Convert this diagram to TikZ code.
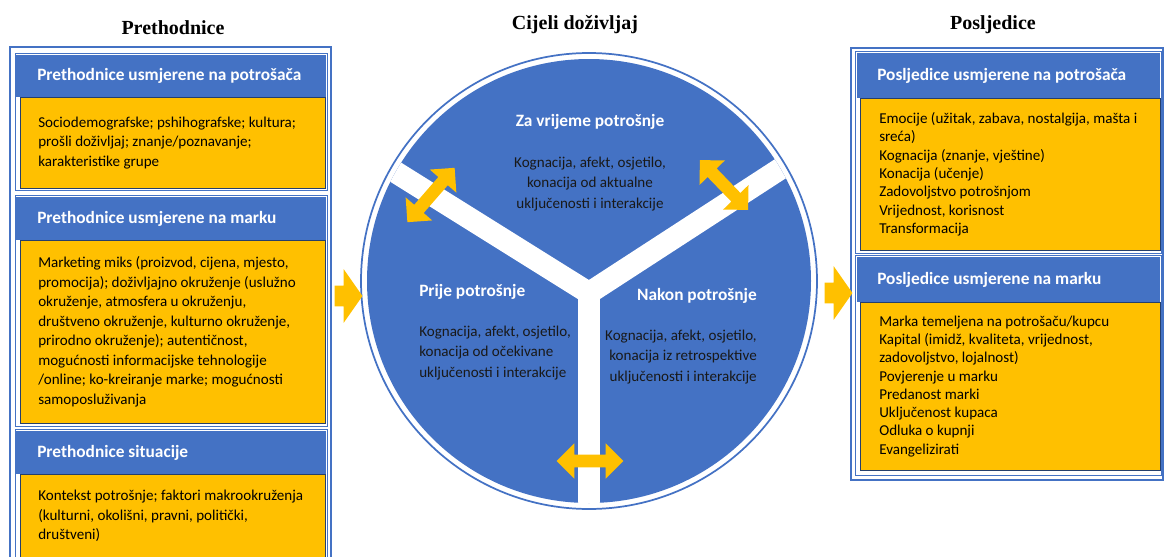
\documentclass[tikz,border=0pt]{standalone}
\usepackage{fontspec}
\setmainfont{Carlito}
\newfontfamily\titlefont{Liberation Serif}
\usetikzlibrary{shapes.arrows}
\definecolor{hblue}{HTML}{4472C4}
\definecolor{byellow}{HTML}{FFC000}
\begin{document}
\begin{tikzpicture}
[x=0.75pt,y=-0.75pt,
every node/.append style={execute at begin node={\spaceskip=0pt\xspaceskip=0pt\relax}},
title/.style={font=\titlefont\bfseries\fontsize{15}{18}\selectfont},
frame/.style={draw=hblue,line width=1.1pt},
card/.style={draw=hblue,line width=0.6pt},
hdr/.style={anchor=north west,fill=hblue,text=white,align=flush left,inner ysep=0pt,font=\bfseries\fontsize{13}{15}\selectfont},
lhdr/.style={hdr,inner xsep=16.5pt,text width=200.25pt},
rhdr/.style={hdr,inner xsep=15pt,text width=197.25pt,minimum height=33.75pt},
txtbox/.style={anchor=north west,fill=byellow,draw=hblue!55!black,line width=0.4pt,align=flush left,inner ysep=0pt},
ltxt/.style={txtbox,inner xsep=13.5pt,text width=201.75pt,font=\fontsize{11.3}{14.6}\selectfont},
rtxt/.style={txtbox,inner xsep=14.25pt,text width=196.5pt,font=\fontsize{11.3}{13.7}\selectfont},
phase/.style={text=white,font=\bfseries\fontsize{13}{15}\selectfont,inner sep=0pt},
phasetxt/.style={text=black!90,font=\fontsize{11.3}{15.3}\selectfont,inner sep=0pt},
swap/.style={double arrow,fill=byellow,inner sep=4.5pt,double arrow head extend=8.5pt,double arrow tip angle=90,minimum width=0pt},
flow/.style={single arrow,fill=byellow,inner sep=7.5pt,single arrow head extend=12.5pt,single arrow tip angle=110,minimum width=0pt,minimum height=19.5pt}]

\useasboundingbox (0,0) rectangle (1164,557);

\node[title] (pre) at (173,28) {Prethodnice};
\node[title] (whole) at (575,25) {Cijeli doživljaj};
\node[title] (post) at (993,25) {Posljedice};

% prethodnice
\draw[frame] (10,47) rectangle (331,600);
\draw[card] (15,53) rectangle (327,190);
\draw[card] (15,195) rectangle (327,426);
\draw[card] (15,429) rectangle (327,600);
\node[lhdr,minimum height=31.5pt] (cons) at (15,55) {Prethodnice usmjerene na potrošača};
\node[ltxt,minimum height=68.25pt] (consT) at (20,97) {Sociodemografske; pshihografske; kultura;\\prošli doživljaj; znanje/poznavanje;\\karakteristike grupe};
\node[lhdr,minimum height=32.25pt] (brand) at (15,197) {Prethodnice usmjerene na marku};
\node[ltxt,minimum height=137.25pt] (brandT) at (20,240) {Marketing miks (proizvod, cijena, mjesto,\\promocija); doživljajno okruženje (uslužno\\okruženje, atmosfera u okruženju,\\društveno okruženje, kulturno okruženje,\\prirodno okruženje); autentičnost,\\mogućnosti informacijske tehnologije\\/online; ko-kreiranje marke; mogućnosti\\samoposluživanja};
\node[lhdr,minimum height=32.25pt] (sit) at (15,431) {Prethodnice situacije};
\node[ltxt,minimum height=63pt] (sitT) at (20,474) {Kontekst potrošnje; faktori makrookruženja\\(kulturni, okolišni, pravni, politički,\\društveni)};

% posljedice
\draw[frame] (851,48) rectangle (1163,480);
\draw[card] (855,51) rectangle (1161,253);
\draw[card] (855,255) rectangle (1161,475);
\node[rhdr] (rcons) at (857,53) {Posljedice usmjerene na potrošača};
\node[rtxt,minimum height=114pt] (rconsT) at (860,98) {Emocije (užitak, zabava, nostalgija, mašta i\\sreća)\\Kognacija (znanje, vještine)\\Konacija (učenje)\\Zadovoljstvo potrošnjom\\Vrijednost, korisnost\\Transformacija};
\node[rhdr] (rbrand) at (857,257) {Posljedice usmjerene na marku};
\node[rtxt,minimum height=126pt] (rbrandT) at (860,302) {Marka temeljena na potrošaču/kupcu\\Kapital (imidž, kvaliteta, vrijednost,\\zadovoljstvo, lojalnost)\\Povjerenje u marku\\Predanost marki\\Uključenost kupaca\\Odluka o kupnji\\Evangelizirati};

% cijeli dozivljaj
\coordinate (c) at (589,281);
\coordinate (y) at (589,293);
\draw[hblue,line width=1.3pt] (c) circle (228);
\fill[hblue] (c) circle (222);
\begin{scope}
\clip (c) circle (222);
\draw[white,line width=16.5pt] (y) -- (589,520);
\draw[white,line width=16.5pt,line join=miter] (y) ++(-148:300) -- (y) -- ++(-33:300);
\end{scope}

\node[phase] (during) at (590,122) {Za vrijeme potrošnje};
\node[phasetxt,align=flush center] (duringT) at (590,184) {Kognacija, afekt, osjetilo,\\konacija od aktualne\\uključenosti i interakcije};
\node[phase,anchor=west] (before) at (419,292) {Prije potrošnje};
\node[phasetxt,align=flush left,anchor=west] (beforeT) at (419,353) {Kognacija, afekt, osjetilo,\\konacija od očekivane\\uključenosti i interakcije};
\node[phase,anchor=east] (after) at (757,296) {Nakon potrošnje};
\node[phasetxt,align=flush right,anchor=east] (afterT) at (757,357) {Kognacija, afekt, osjetilo,\\konacija iz retrospektive\\uključenosti i interakcije};

\node[swap,minimum height=54pt,rotate=49] (sw1) at (431,195) {};
\node[swap,minimum height=52pt,rotate=-46] (sw2) at (724,185) {};
\node[swap,minimum height=50pt] (sw3) at (590,461) {};

\node[flow] (in) at (345,296) {};
\node[flow] (out) at (835,293) {};
\end{tikzpicture}
\end{document}
